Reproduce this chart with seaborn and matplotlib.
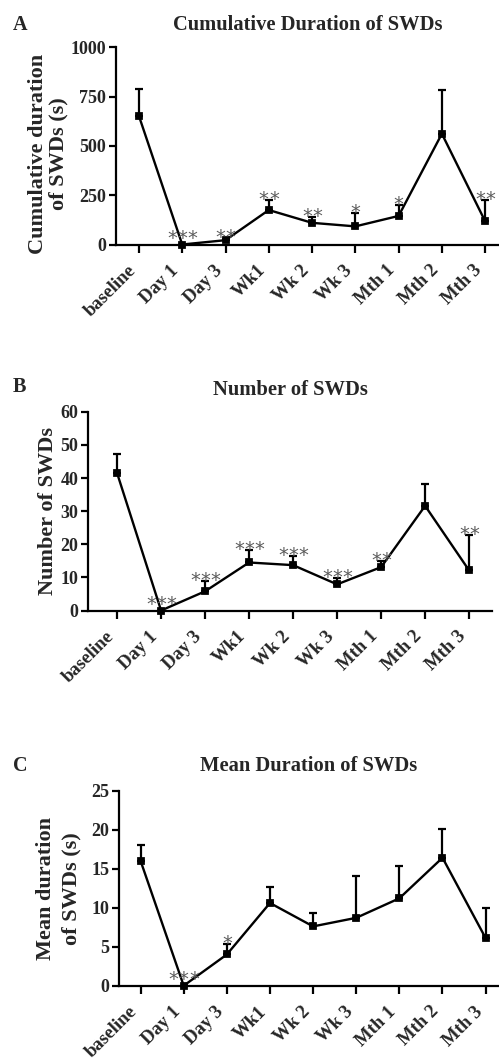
import numpy as np
import pandas as pd
import matplotlib
matplotlib.use("Agg")
import matplotlib.pyplot as plt
import seaborn as sns
from matplotlib.transforms import ScaledTranslation

# Time points after treatment
timepoints = ["baseline", "Day 1", "Day 3", "Wk1", "Wk 2", "Wk 3", "Mth 1", "Mth 2", "Mth 3"]

# Cumulative duration of SWDs (s): mean and SEM
cum_mean = [652, 0, 22, 175, 110, 92, 145, 562, 118]
cum_sem = [136, 0, 8, 49, 30, 66, 55, 221, 109]
cum_stars = ["", "***", "**", "**", "**", "*", "*", "", "**"]

# Number of SWDs: mean and SEM
num_mean = [41.5, 0, 5.8, 14.5, 13.7, 7.9, 13.1, 31.6, 12.1]
num_sem = [5.8, 0, 3.2, 3.7, 2.8, 1.9, 1.9, 6.7, 10.7]
num_stars = ["", "***", "***", "***", "***", "***", "**", "", "**"]

# Mean duration of SWDs (s): mean and SEM
dur_mean = [16.0, 0, 4.0, 10.6, 7.6, 8.7, 11.2, 16.4, 6.1]
dur_sem = [2.0, 0, 1.3, 2.1, 1.7, 5.4, 4.2, 3.7, 3.9]
dur_stars = ["", "***", "*", "", "", "", "", "", ""]

sns.set_style("ticks")
plt.rcParams["font.family"] = ["Liberation Serif", "DejaVu Serif"]
plt.rcParams["font.weight"] = "bold"

W, H = 499, 1064
fig = plt.figure(figsize=(W / 100, H / 100), dpi=100)

STAR_STEP = 7.3  # spacing between significance stars, in points


def panel(rect, mean, sem, stars, title, ylabel, yticks, xlim, letter,
          letter_y, title_pad, ylab_x, ylab_y, ylab_ls):
    ax = fig.add_axes(rect)
    df = pd.DataFrame({"time": timepoints, "value": mean, "sem": sem})
    pos = np.arange(len(timepoints))
    # one-sided (upper) SEM bars
    ax.errorbar(pos, df["value"], yerr=[np.zeros(len(pos)), df["sem"]],
                fmt="none", ecolor="black", elinewidth=1.6, capsize=3,
                capthick=1.6, zorder=2)
    sns.pointplot(data=df, x="time", y="value", color="black", markers="s",
                  errorbar=None, linewidth=1.7, markersize=3.8, ax=ax,
                  zorder=3)
    for art in ax.lines + ax.collections:
        art.set_clip_on(False)

    # significance stars above each error bar (a bit higher where the
    # bar has no height and the marker sits on the axis)
    for i, s in enumerate(stars):
        n = len(s)
        lift = -3.5 if sem[i] > 0 else 0.5
        for k in range(n):
            dx = (k - (n - 1) / 2) * STAR_STEP
            ax.annotate("*", xy=(i, mean[i] + sem[i]), xytext=(dx, lift),
                        textcoords="offset points", ha="center",
                        va="baseline", fontsize=14, color="#5c5c5c",
                        fontfamily="DejaVu Sans", fontweight="normal",
                        annotation_clip=False)

    ax.set_xlim(*xlim)
    ax.set_ylim(yticks[0], yticks[-1])
    ax.set_yticks(yticks)
    ax.set_xticks(pos)
    ax.set_xticklabels(timepoints, rotation=45, ha="right",
                       fontsize=13.5, fontweight="bold")
    off = ScaledTranslation(9 / 100, 0, fig.dpi_scale_trans)
    for lab in ax.get_xticklabels():
        lab.set_transform(lab.get_transform() + off)
    for lab in ax.get_yticklabels():
        lab.set_fontweight("bold")
        lab.set_fontsize(13)
    ax.tick_params(axis="both", direction="out", length=5, width=1.6,
                   color="black", pad=2)
    ax.tick_params(axis="x", length=5.5, pad=7)
    sns.despine(ax=ax)
    for sp in ("left", "bottom"):
        ax.spines[sp].set_linewidth(1.6)
        ax.spines[sp].set_color("black")

    ax.set_xlabel("")
    ax.set_ylabel(ylabel, fontsize=16, fontweight="bold", linespacing=ylab_ls)
    ax.yaxis.set_label_coords(ylab_x, ylab_y)
    ax.set_title(title, fontsize=14.8, fontweight="bold", pad=title_pad)
    fig.text(13 / W, 1 - letter_y / H, letter, fontsize=14.5,
             fontweight="bold", va="baseline", ha="left")
    return ax


panel([0.2325, 0.7702, 0.7675, 0.1852], cum_mean, cum_sem, cum_stars,
      "Cumulative Duration of SWDs", "Cumulative duration\nof SWDs (s)",
      [0, 250, 500, 750, 1000], (-0.53, 8.32), "A", 30, 12.5,
      -0.125, 0.46, 1.0)

panel([0.1764, 0.4262, 0.8096, 0.1868], num_mean, num_sem, num_stars,
      "Number of SWDs", "Number of SWDs",
      [0, 10, 20, 30, 40, 50, 60], (-0.66, 8.52), "B", 392, 12,
      -0.075, 0.5, 1.0)

panel([0.2385, 0.0736, 0.7615, 0.1833], dur_mean, dur_sem, dur_stars,
      "Mean Duration of SWDs", "Mean duration\nof SWDs (s)",
      [0, 5, 10, 15, 20, 25], (-0.5, 8.31), "C", 771, 14,
      -0.10, 0.5, 1.35)

fig.savefig("out.png", dpi=100)
